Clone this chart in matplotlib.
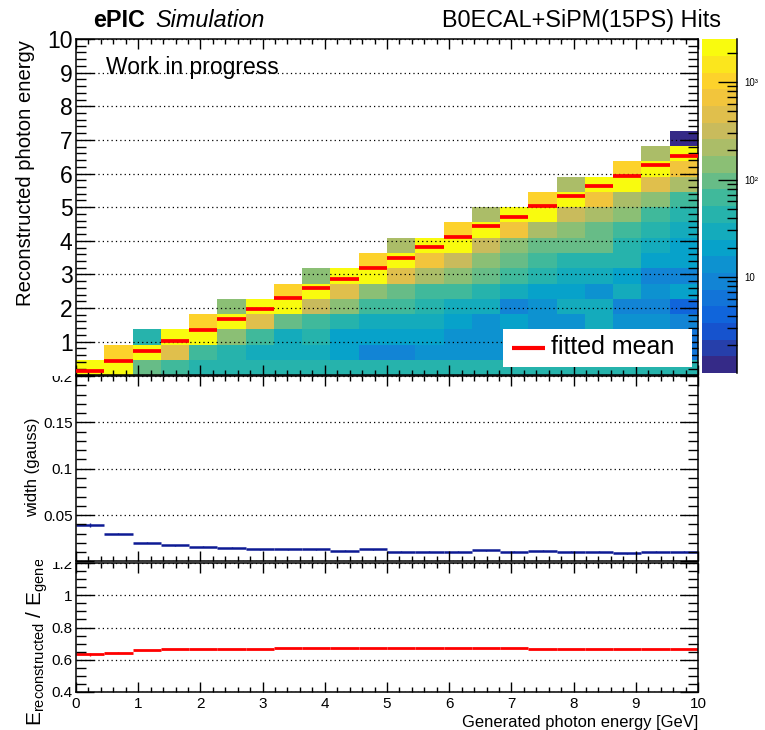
import numpy as np
import matplotlib.pyplot as plt
from matplotlib.colors import LinearSegmentedColormap, ListedColormap, LogNorm
from matplotlib.patches import Rectangle
from matplotlib.ticker import (MultipleLocator, FixedLocator, FixedFormatter,
                               LogLocator, NullFormatter, FuncFormatter)
from matplotlib.transforms import Bbox, TransformedBbox

plt.rcParams['font.family'] = ['Liberation Sans', 'DejaVu Sans']
plt.rcParams['mathtext.fontset'] = 'custom'
plt.rcParams['mathtext.rm'] = 'Liberation Sans'
plt.rcParams['mathtext.it'] = 'Liberation Sans:italic'

# binning: 22 bins from 0 to 10 GeV on both axes
n_bins = 22
e_max = 10.0

# hits per generated-energy column, listed from the lowest reconstructed bin upward
counts = [
    [2150],
    [2150, 980],
    [92, 2150, 42],
    [62, 445, 2150],
    [42, 62, 2150, 980],
    [42, 42, 137, 2150, 160],
    [42, 28, 62, 445, 2150],
    [42, 28, 28, 92, 2150, 980],
    [42, 28, 42, 62, 300, 2150, 165],
    [42, 19, 19, 42, 137, 445, 2150],
    [42, 8.6, 19, 28, 62, 137, 2150, 980],
    [42, 8.6, 19, 28, 62, 92, 445, 2150, 220],
    [42, 12.8, 19, 28, 42, 62, 203, 660, 2150],
    [42, 12.8, 12.8, 19, 28, 62, 137, 300, 2150, 980],
    [42, 12.8, 12.8, 12.8, 28, 42, 92, 137, 300, 2150, 203],
    [42, 12.8, 12.8, 19, 8.6, 28, 62, 92, 137, 660, 2150],
    [42, 8.6, 12.8, 12.8, 12.8, 19, 42, 62, 92, 203, 2150, 980],
    [42, 8.6, 12.8, 12.8, 28, 19, 28, 42, 92, 137, 300, 2150, 203],
    [42, 12.8, 12.8, 28, 28, 12.8, 28, 42, 92, 92, 203, 660, 2150],
    [42, 12.8, 8.6, 12.8, 8.6, 28, 19, 42, 42, 62, 137, 203, 2150, 980],
    [42, 8.6, 8.6, 12.8, 8.6, 12.8, 8.6, 19, 28, 42, 62, 137, 445, 2150, 203],
    [42, 5.8, 5.8, 8.6, 3.9, 19, 8.6, 19, 19, 28, 42, 62, 203, 660, 2150, 1.5],
]

fit_mean = [0.14, 0.42, 0.72, 1.02, 1.34, 1.66, 1.97, 2.29, 2.60, 2.87, 3.19,
            3.50, 3.81, 4.12, 4.44, 4.72, 5.02, 5.34, 5.62, 5.92, 6.24, 6.51]

width = [0.0396, 0.0299, 0.0201, 0.0176, 0.0158, 0.0147, 0.0129, 0.0129,
         0.0129, 0.0115, 0.0129, 0.0104, 0.0104, 0.0104, 0.0119, 0.0104,
         0.0115, 0.0104, 0.0104, 0.0090, 0.0104, 0.0104]
width_err = [0.002] + [0.0006] * 21

ratio = [0.633, 0.643, 0.659, 0.665, 0.665, 0.665, 0.665, 0.673, 0.673,
         0.673, 0.673, 0.673, 0.673, 0.673, 0.673, 0.673, 0.665, 0.665,
         0.665, 0.665, 0.665, 0.665]
ratio_err = [0.008] + [0.002] * 21

edges = np.linspace(0, e_max, n_bins + 1)
lo, hi = edges[:-1], edges[1:]
centers = 0.5 * (lo + hi)

H = np.zeros((n_bins, n_bins))
for i, col in enumerate(counts):
    H[:len(col), i] = col
H = np.ma.masked_equal(H, 0)

# ROOT kBird palette, 20 contour levels
stops = [0.0, 0.125, 0.25, 0.375, 0.5, 0.625, 0.75, 0.875, 1.0]
red = [0.2082, 0.0592, 0.0780, 0.0232, 0.1802, 0.5301, 0.8186, 0.9956, 0.9764]
green = [0.1664, 0.3599, 0.5041, 0.6419, 0.7178, 0.7492, 0.7328, 0.7862, 0.9832]
blue = [0.5293, 0.8684, 0.8385, 0.7914, 0.6425, 0.4662, 0.3499, 0.1968, 0.0539]
bird = LinearSegmentedColormap.from_list('bird', list(zip(stops, zip(red, green, blue))))
cmap = ListedColormap(bird(np.linspace(0, 1, 20)))
cmap.set_bad('white')
norm = LogNorm(vmin=1.036, vmax=2742)

W, H_px = 765, 730
fig = plt.figure(figsize=(W / 100, H_px / 100), dpi=100)


def fx(px):
    return px / W


def fy(py):
    return 1 - py / H_px


def band(top_px, bottom_px):
    return TransformedBbox(Bbox([[0, fy(bottom_px)], [1, fy(top_px)]]), fig.transFigure)


left, width_ax = fx(76), fx(698) - fx(76)
ax1 = fig.add_axes([left, fy(375.3), width_ax, fy(39) - fy(375.3)])
ax2 = fig.add_axes([left, fy(561.4), width_ax, fy(376) - fy(561.4)])
ax3 = fig.add_axes([left, fy(691.7), width_ax, fy(563.3) - fy(691.7)])
cax = fig.add_axes([fx(701.5), fy(373), fx(737) - fx(701.5), fy(39.3) - fy(373)])


def hide_label(hidden):
    # ROOT pads overlap, so the edge label of one pad is covered by the next
    def fmt(v, pos):
        if any(abs(v - h) < 1e-9 for h in hidden):
            return ''
        return '%g' % round(v, 6)
    return FuncFormatter(fmt)


def style(ax, ymaj, ymin, label_size, hidden):
    for s in ax.spines.values():
        s.set_linewidth(1.1)
    ax.xaxis.set_major_locator(MultipleLocator(1))
    ax.xaxis.set_minor_locator(MultipleLocator(0.2))
    ax.yaxis.set_major_locator(MultipleLocator(ymaj))
    ax.yaxis.set_minor_locator(MultipleLocator(ymin))
    ax.yaxis.set_major_formatter(hide_label(hidden))
    ax.tick_params(which='both', direction='in', top=True, right=True, width=1)
    ax.tick_params(axis='y', which='major', length=13, labelsize=label_size, pad=2.5)
    ax.tick_params(axis='y', which='minor', length=7)
    ax.tick_params(axis='x', which='major', length=7)
    ax.tick_params(axis='x', which='minor', length=3.5)
    ax.set_xlim(0, e_max)
    ax.set_axisbelow(False)
    ax.yaxis.grid(True, color='black', linestyle=(0, (1, 2.5)), linewidth=0.9)


# top panel: 2D histogram with fitted means
mesh = ax1.pcolormesh(edges, edges, H, cmap=cmap, norm=norm)
ax1.hlines(fit_mean, lo, hi, color='red', linewidth=2.7, zorder=3)
style(ax1, 1, 0.2, 16.5, [0])
ax1.set_ylim(0, e_max)
ax1.tick_params(axis='x', labelbottom=False)

# legend box drawn like the ROOT TLegend (white, no border)
ax1.add_patch(Rectangle((0.6865, 0.0247), 0.3035, 0.113, transform=ax1.transAxes,
                        facecolor='white', edgecolor='none', zorder=6))
ax1.plot([0.701, 0.754], [0.0815, 0.0815], transform=ax1.transAxes, color='red',
         linewidth=3, solid_capstyle='butt', zorder=7)
ax1.text(0.7637, 0.0827, 'fitted mean', transform=ax1.transAxes, fontsize=18,
         va='center', ha='left', zorder=7)
ax1.text(0.048, 0.895, 'Work in progress', transform=ax1.transAxes, fontsize=16.5)

# middle panel: gaussian width
ax2.hlines(width, lo, hi, color='#0d1a94', linewidth=1.8)
ax2.vlines(centers, np.array(width) - width_err, np.array(width) + width_err,
           color='#0d1a94', linewidth=1)
style(ax2, 0.05, 0.01, 11, [0])
ax2.set_ylim(0, 0.2)
ax2.tick_params(axis='x', labelbottom=False)

# bottom panel: reco / generated ratio
ax3.hlines(ratio, lo, hi, color='red', linewidth=2)
ax3.vlines(centers, np.array(ratio) - ratio_err, np.array(ratio) + ratio_err,
           color='red', linewidth=1)
style(ax3, 0.2, 0.05, 11, [])
ax3.set_ylim(0.4, 1.2)
ax3.tick_params(axis='x', labelsize=11, pad=3.5)

# colour bar
cb = fig.colorbar(mesh, cax=cax)
cb.outline.set_visible(False)
cax.spines['right'].set_visible(True)
cax.spines['right'].set_linewidth(1.1)
cax.yaxis.set_major_locator(FixedLocator([10, 100, 1000]))
cax.yaxis.set_major_formatter(FixedFormatter(['10', '10²', '10³']))
cax.yaxis.set_minor_locator(LogLocator(base=10, subs=np.arange(2, 10)))
cax.yaxis.set_minor_formatter(NullFormatter())
cax.tick_params(which='both', direction='in', left=False, right=True, width=1)
cax.tick_params(which='major', length=14, labelsize=7, pad=5)
cax.tick_params(which='minor', length=7)

# titles and axis titles
fig.text(fx(93), fy(27), 'ePIC', fontsize=16.8, fontweight='bold', va='baseline')
fig.text(fx(155), fy(27), 'Simulation', fontsize=16.8, fontstyle='italic', va='baseline')
fig.text(fx(721), fy(27), 'B0ECAL+SiPM(15PS) Hits', fontsize=16.8, ha='right', va='baseline')

fig.text(fx(26), fy(40), 'Reconstructed photon energy', fontsize=14.6, rotation=90,
         ha='center', va='top')
fig.text(fx(33), fy(467), 'width (gauss)', fontsize=12, rotation=90,
         ha='center', va='center')
yl = fig.text(fx(37), fy(726), r'$\mathregular{E_{reconstructed}\ /\ E_{generated}}$',
              fontsize=15, rotation=90, ha='center', va='bottom')
yl.set_clip_box(band(560, 730))
yl.set_clip_on(True)
fig.text(fx(698), fy(727), 'Generated photon energy [GeV]', fontsize=11.9,
         ha='right', va='baseline')

# after a first draw the tick labels are final; cut the edge ones at the pad borders
fig.canvas.draw()
for ax, top, bottom in [(ax2, 375.5, 561), (ax3, 562, 730)]:
    box = band(top, bottom)
    for t in ax.yaxis.get_ticklabels():
        t.set_clip_box(box)
        t.set_clip_on(True)

fig.savefig('out.png', dpi=100)
